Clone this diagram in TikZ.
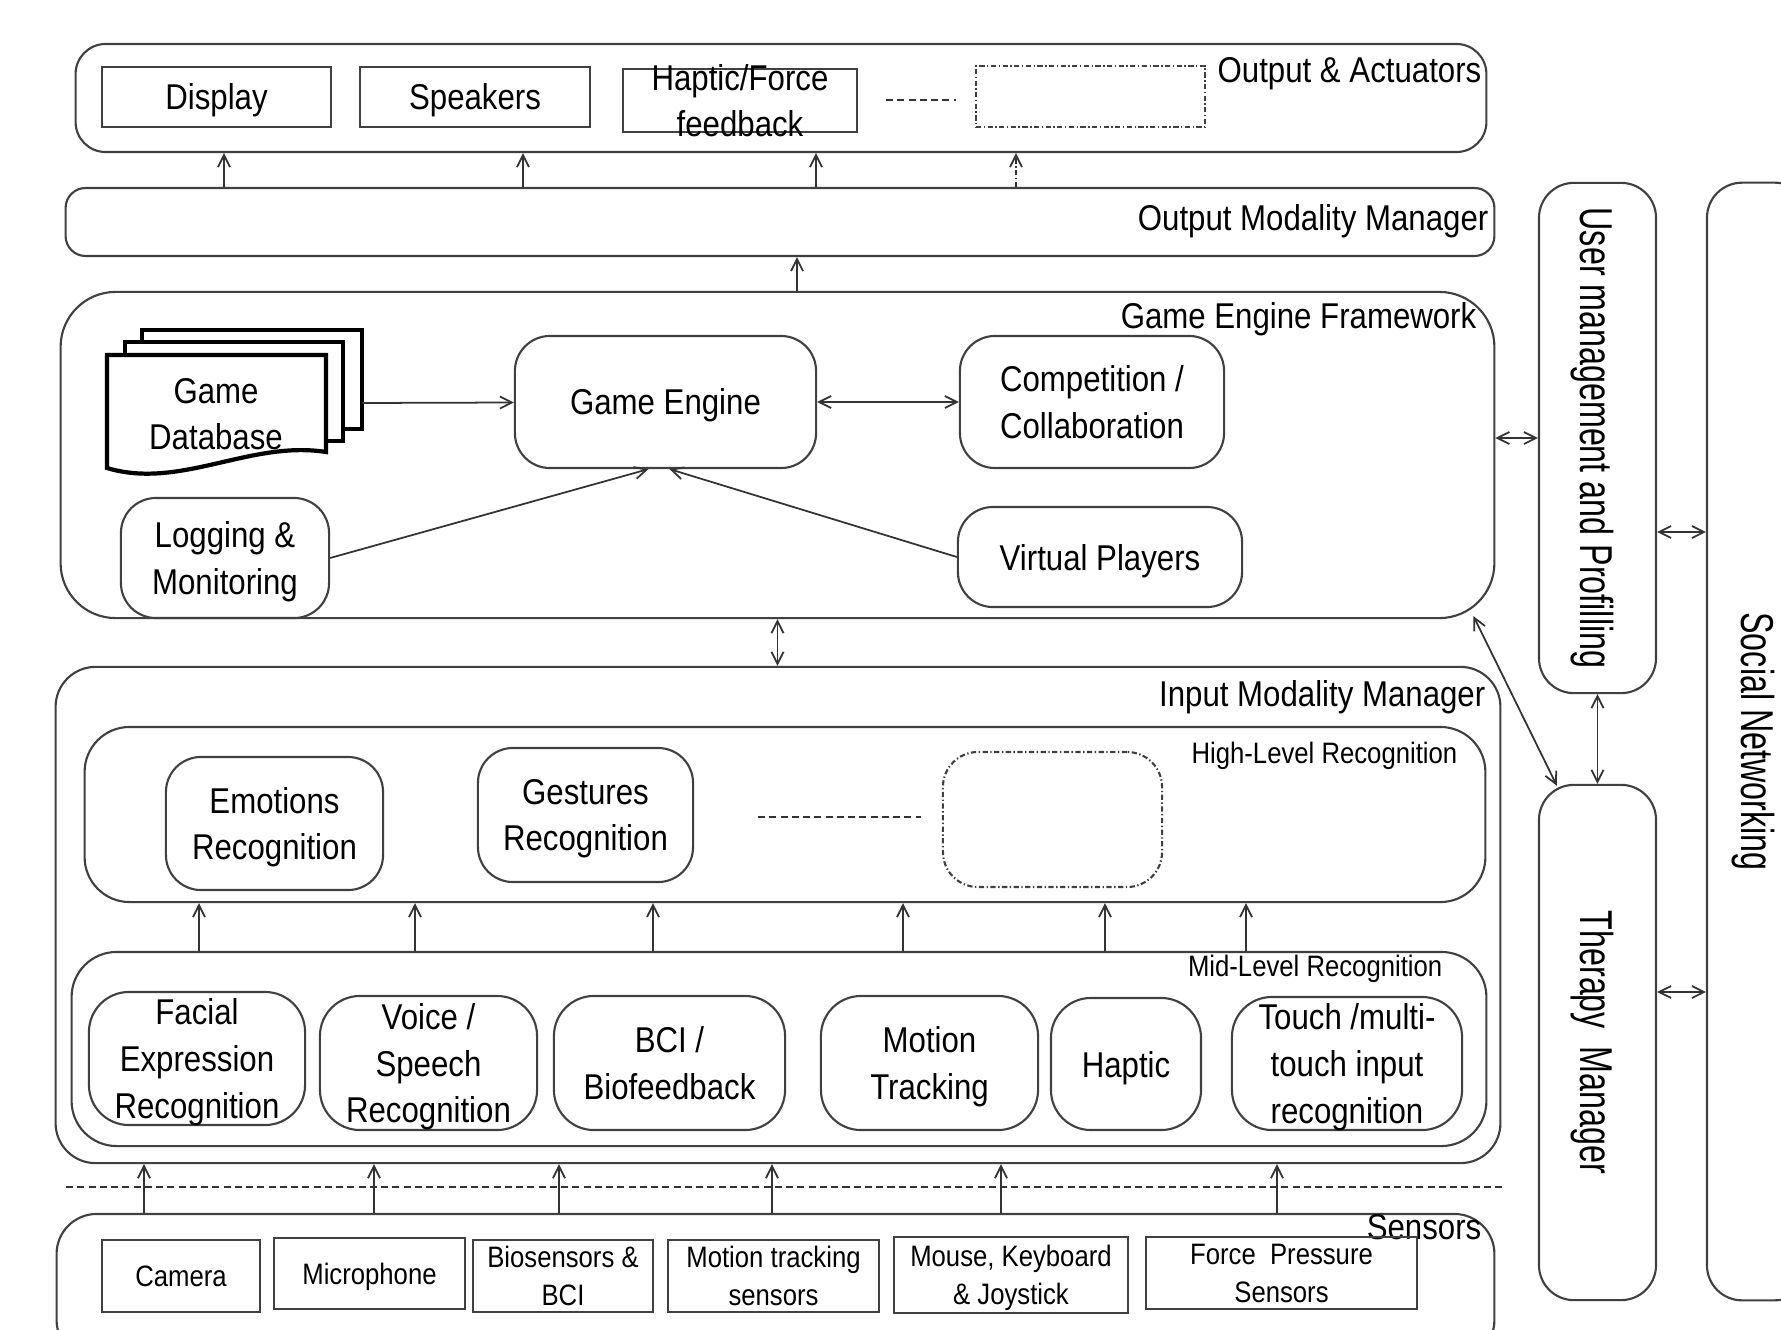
\documentclass[tikz,border=0pt]{standalone}
\usepackage{fontspec}
\setmainfont{Liberation Sans}[FakeStretch=0.87]
\newfontfamily\sidefont{Liberation Sans}[FakeStretch=0.7]
\usepackage{tikz}
\usetikzlibrary{positioning, arrows.meta, calc}

\begin{document}
\begin{tikzpicture}[x=0.01cm, y=-0.01cm,
    >={Straight Barb[length=1.2mm,width=1.2mm]},
    every node/.style={font=\fontsize{10.2}{13.3}\selectfont, align=center, inner sep=0pt, text depth=0pt, text=black},
    layer/.style={draw=black!75, line width=0.6pt, rounded corners=0.3cm},
    rbox/.style={draw=black!75, line width=0.6pt, rounded corners=0.35cm},
    sbox/.style={draw=black!75, line width=0.6pt},
    small/.style={font=\fontsize{8.4}{10.8}\selectfont},
    side/.style={draw=black!75, line width=0.6pt, rounded corners=0.35cm, rotate=-90, font=\sidefont\fontsize{13.1}{15}\selectfont},
    conn/.style={draw=black!80, line width=0.5pt},
    dotline/.style={conn, dash pattern=on 2pt off 1.2pt},
    dashdot/.style={dash pattern=on 1.5pt off 0.7pt on 0.4pt off 0.7pt},
    docline/.style={draw=black, line width=1.2pt, fill=white}
  ]
      \useasboundingbox (0,0) rectangle (1781,1330);

      % outputs
      \node[layer, minimum width=14.10cm, minimum height=1.08cm] (outputs) at (781,98) {};
      \node[anchor=east] (outputslbl) at (1482,70) {Output \& Actuators};
      \node[sbox, minimum width=2.29cm, minimum height=0.60cm] (display) at (216.5,97) {Display};
      \node[sbox, minimum width=2.30cm, minimum height=0.60cm] (speakers) at (475,97) {Speakers};
      \node[sbox, minimum width=2.34cm, minimum height=0.63cm] (haptic) at (740,100.5) {};
      \node (hapticlbl) at (haptic) {Haptic/Force\\feedback};
      \coordinate (outdotsl) at (886,100);
      \coordinate (outdotsr) at (956,100);
      \draw[dotline] (outdotsl) -- (outdotsr);
      \node[sbox, dashdot, minimum width=2.29cm, minimum height=0.61cm] (outmore) at (1090.5,96.5) {};

      % output modality manager
      \node[layer, rounded corners=0.2cm, minimum width=14.28cm, minimum height=0.68cm] (omm) at (780,222) {};
      \node[anchor=east] (ommlbl) at (1489,218) {Output Modality Manager};
      \foreach \x in {224,523,816}
        \draw[conn,->] (\x,0 |- omm.north) -- (\x,0 |- outputs.south);
      \draw[conn,dashdot,->] (1016,0 |- omm.north) -- (1016,0 |- outputs.south);

      % game engine framework
      \node[layer, rounded corners=0.55cm, minimum width=14.33cm, minimum height=3.26cm] (gef) at (777.5,455) {};
      \node[anchor=east] (geflbl) at (1477,315) {Game Engine Framework};
      \draw[conn,->] (797,0 |- gef.north) -- (797,0 |- omm.south);

      \draw[docline] (142,330) rectangle (362,429);
      \draw[docline] (125,342) rectangle (343,441);
      \draw[docline] (107,355) -- (326,355) -- (326,452) .. controls (250,440) and (180,490) .. (107,468) -- cycle;
      \node (gamedb) at (216,414) {Game\\Database};
      \coordinate (dbout) at (362,403);

      \node[rbox, minimum width=3.01cm, minimum height=1.32cm] (engine) at (665.5,402) {Game Engine};
      \node[rbox, minimum width=2.64cm, minimum height=1.32cm] (compet) at (1092,402) {Competition /\\Collaboration};
      \node[rbox, minimum width=2.84cm, minimum height=1.00cm] (virtual) at (1100,557) {Virtual Players};
      \node[rbox, minimum width=2.08cm, minimum height=1.20cm] (logging) at (225,558) {Logging \&\\Monitoring};

      \draw[conn,->] (dbout) -- (engine);
      \draw[conn,<->] (engine) -- (compet);
      \draw[conn,->] (logging.east) -- ([xshift=-0.17cm]engine.south);
      \draw[conn,->] (virtual.west) -- ([xshift=0.04cm]engine.south);

      % input modality manager
      \node[layer, rounded corners=0.4cm, minimum width=14.44cm, minimum height=4.96cm] (imm) at (778,915) {};
      \node[anchor=east] (immlbl) at (1486,693) {Input Modality Manager};
      \draw[conn,<->] (gef.south) -- (gef.south |- imm.north);

      \node[layer, rounded corners=0.45cm, minimum width=14.0cm, minimum height=1.75cm] (high) at (785,814.5) {};
      \node[small, anchor=east] (highlbl) at (1458,753) {High-Level Recognition};
      \node[rbox, minimum width=2.17cm, minimum height=1.33cm] (emotions) at (274.5,823.5) {Emotions\\Recognition};
      \node[rbox, minimum width=2.15cm, minimum height=1.34cm] (gestures) at (585.5,815) {Gestures\\Recognition};
      \coordinate (hidotsl) at (758,817);
      \coordinate (hidotsr) at (921,817);
      \draw[dotline] (hidotsl) -- (hidotsr);
      \node[rbox, dashdot, minimum width=2.19cm, minimum height=1.35cm] (highmore) at (1052.5,819.5) {};

      \node[layer, rounded corners=0.45cm, minimum width=14.14cm, minimum height=1.94cm] (mid) at (779,1049) {};
      \node[small, anchor=east] (midlbl) at (1443,966) {Mid-Level Recognition};
      \node[rbox, rounded corners=0.4cm, minimum width=2.16cm, minimum height=1.33cm] (facial) at (197,1058.5) {Facial\\Expression\\Recognition};
      \node[rbox, rounded corners=0.4cm, minimum width=2.17cm, minimum height=1.34cm] (voice) at (428.5,1063) {Voice /\\Speech\\Recognition};
      \node[rbox, rounded corners=0.4cm, minimum width=2.31cm, minimum height=1.34cm] (bci) at (669.5,1063) {BCI /\\Biofeedback};
      \node[rbox, rounded corners=0.4cm, minimum width=2.17cm, minimum height=1.34cm] (motion) at (929.5,1063) {Motion\\Tracking};
      \node[rbox, rounded corners=0.4cm, minimum width=1.50cm, minimum height=1.32cm] (haptrec) at (1126,1064) {Haptic};
      \node[rbox, rounded corners=0.4cm, minimum width=2.30cm, minimum height=1.33cm] (touch) at (1347,1063.5) {Touch /multi-\\touch input\\recognition};

      \foreach \x in {199,415,653,903,1105,1246}
        \draw[conn,->] (\x,0 |- mid.north) -- (\x,0 |- high.south);

      % sensors
      \coordinate (sepl) at (66,1187);
      \coordinate (sepr) at (1503,1187);
      \draw[dotline] (sepl) -- (sepr);

      \node[layer, rounded corners=0.4cm, minimum width=14.37cm, minimum height=1.46cm] (sensors) at (775.5,1287) {};
      \node[anchor=east] (sensorslbl) at (1482,1227) {Sensors};
      \node[sbox, small, minimum width=1.58cm, minimum height=0.72cm] (camera) at (181,1276) {Camera};
      \node[sbox, small, minimum width=1.91cm, minimum height=0.71cm] (micro) at (369.5,1273.5) {Microphone};
      \node[sbox, small, minimum width=1.80cm, minimum height=0.72cm] (biosens) at (563,1276) {Biosensors \&\\BCI};
      \node[sbox, small, minimum width=2.11cm, minimum height=0.72cm] (motsens) at (773.5,1276) {Motion tracking\\sensors};
      \node[sbox, small, minimum width=2.34cm, minimum height=0.76cm] (mouse) at (1011,1275) {Mouse, Keyboard\\\& Joystick};
      \node[sbox, small, minimum width=2.71cm, minimum height=0.72cm] (force) at (1281.5,1273) {Force\ \ Pressure\\Sensors};

      \foreach \x in {144,374,559,772,1001,1277}
        \draw[conn,->] (\x,0 |- sensors.north) -- (\x,0 |- imm.south);

      % side columns
      \node[side, minimum width=5.10cm, minimum height=1.17cm] (users) at (1597.5,438) {User management and Profilling};
      \node[side, minimum width=5.15cm, minimum height=1.17cm] (therapy) at (1597.5,1042.5) {Therapy\ \ Manager};
      \node[side, minimum width=11.17cm, minimum height=1.03cm] (social) at (1758.5,741.5) {Social Networking};

      \draw[conn,<->] (gef.east |- users.south) -- (users.south);
      \draw[conn,<->] (users.north |- 0,532) -- (social.south |- 0,532);
      \draw[conn,<->] (therapy.north |- 0,992) -- (social.south |- 0,992);
      \draw[conn,<->] (users.east) -- (therapy.west);
      \draw[conn,<->] ([xshift=-0.22cm,yshift=0.03cm]gef.south east) -- ([xshift=0.19cm,yshift=-0.02cm]therapy.south west);
    \end{tikzpicture}
\end{document}
